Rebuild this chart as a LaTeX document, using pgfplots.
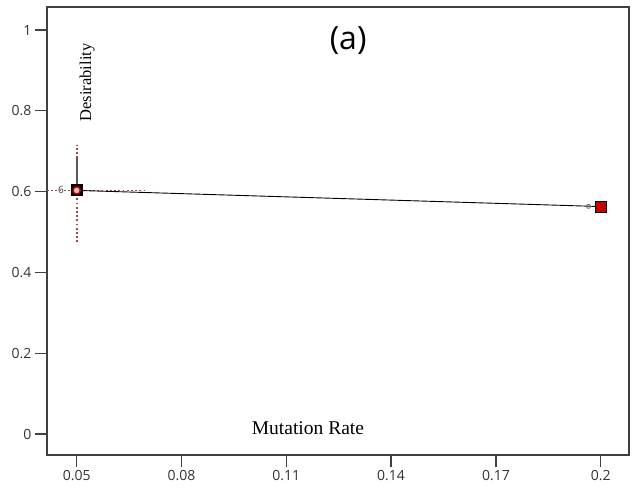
\documentclass[border=0pt]{standalone}
\usepackage{pgfplots}
\pgfplotsset{compat=1.18}
\usepackage{fontspec}
\setmainfont{Liberation Serif}
\newfontfamily\tickfont{Open Sans}
\definecolor{dotred}{RGB}{195,60,60}
\definecolor{sqred}{RGB}{200,0,0}
\begin{document}
\begin{tikzpicture}[x=1pt,y=1pt]
\useasboundingbox (0,0) rectangle (634,487);
\begin{axis}[
  at={(47pt,32pt)}, anchor=south west,
  width=582pt, height=448pt, scale only axis,
  xmin=0.0415, xmax=0.2081, ymin=-0.052, ymax=1.057,
  xtick={0.05,0.08,0.11,0.14,0.17,0.2},
  xticklabels={0.05,0.08,0.11,0.14,0.17,0.2},
  ytick={0,0.2,0.4,0.6,0.8,1},
  yticklabels={0,0.2,0.4,0.6,0.8,1},
  tick align=outside, major tick length=12pt,
  tick style={line width=1.3pt, color=black!75},
  xtick pos=bottom, ytick pos=left,
  axis line style={line width=1.3pt, black!75},
  tick label style={font=\tickfont\fontsize{14}{16}\selectfont, black!80},
  /pgf/number format/assume math mode=true,
  clip=false,
]
% red dotted cross-hair
\addplot[dotred, dash pattern=on 1.8pt off 2.4pt, line width=1.8pt] coordinates {(0.05,0.475) (0.05,0.715)};
\addplot[dotred, dash pattern=on 1.8pt off 2.4pt, line width=1.4pt] coordinates {(0.0415,0.603) (0.07,0.603)};
% gray vertical bar
\addplot[black!65, line width=2.2pt] coordinates {(0.05,0.603) (0.05,0.686)};
% response line
\addplot[black, line width=0.9pt] coordinates {(0.05,0.603) (0.2,0.563)};
% small circle near right end
\addplot[only marks, mark=o, mark size=2pt, black!60, line width=0.8pt] coordinates {(0.1965,0.5635)};
% left marker
\addplot[only marks, mark=square*, mark size=5.5pt, mark options={fill=black, draw=black, line width=1pt}] coordinates {(0.05,0.603)};
\addplot[only marks, mark=*, mark size=3.6pt, mark options={fill=red!25, draw=sqred, line width=1.4pt}] coordinates {(0.05,0.603)};
% right marker
\addplot[only marks, mark=square*, mark size=5.5pt, mark options={fill=sqred, draw=black, line width=1pt}] coordinates {(0.2,0.563)};
% labels
\node[font=\tickfont\fontsize{10}{11}\selectfont, black!75] at (axis cs:0.0455,0.603) {6};
\node[rotate=90, font=\fontsize{16.5}{18}\selectfont] at (axis cs:0.053,0.87) {Desirability};
\node[font=\fontsize{19.5}{21}\selectfont] at (axis cs:0.1162,0.015) {Mutation Rate};
\node[font=\tickfont\fontsize{32}{36}\selectfont] at (axis cs:0.1277,0.975) {(a)};
\end{axis}
\end{tikzpicture}
\end{document}
